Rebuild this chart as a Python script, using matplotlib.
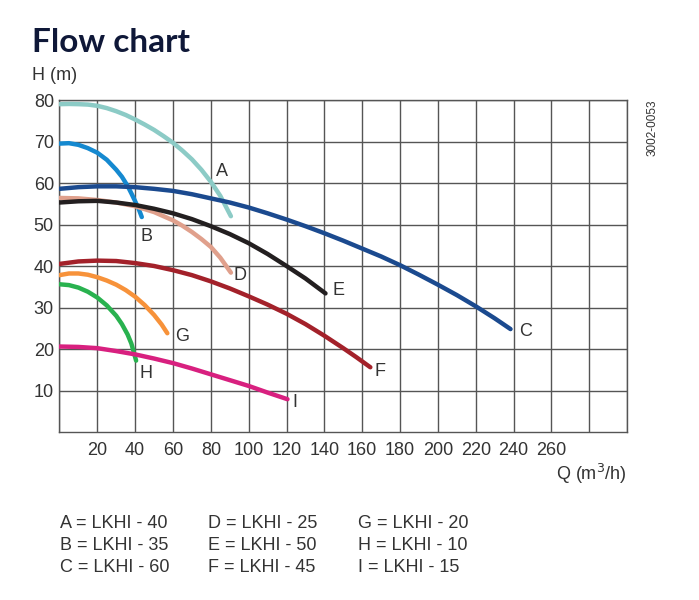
import matplotlib
matplotlib.use("Agg")
import matplotlib.pyplot as plt

plt.rcParams['font.family'] = ['Liberation Sans', 'DejaVu Sans']

# pump curves: Q (m3/h) and H (m)
q_a = [0, 5, 10, 15, 20, 25, 30, 35, 40, 45, 50, 55, 60, 65, 70, 75, 80, 85, 90.6]
h_a = [79, 79.05, 79, 78.9, 78.6, 78.05, 77.3, 76.4, 75.3, 74.1, 72.8, 71.3, 69.7,
       67.8, 65.7, 63.2, 60.3, 56.9, 52]
q_b = [0, 5, 10, 15, 20, 25, 30, 33, 36, 38, 40, 42, 43.5]
h_b = [69.5, 69.6, 69.2, 68.4, 67.3, 65.6, 63.2, 61.5, 59.3, 57.5, 55.6, 53.6, 51.8]
q_c = [0, 10, 20, 30, 40, 50, 60, 70, 80, 90, 100, 110, 120, 130, 140, 150, 160,
       170, 180, 190, 200, 210, 220, 230, 238.4]
h_c = [58.6, 59.0, 59.2, 59.2, 59.0, 58.6, 58.1, 57.3, 56.3, 55.3, 54.1, 52.7, 51.2,
       49.6, 47.9, 46.1, 44.2, 42.3, 40.2, 37.9, 35.5, 33.0, 30.3, 27.4, 24.8]
q_d = [0, 10, 20, 30, 40, 50, 60, 65, 70, 75, 80, 85, 90.6]
h_d = [56.4, 56.3, 55.9, 55.3, 54.4, 53, 51, 49.7, 48.2, 46.5, 44.6, 42.0, 38.4]
q_e = [0, 10, 20, 30, 40, 50, 60, 70, 80, 90, 100, 110, 120, 130, 140.6]
h_e = [55.3, 55.6, 55.7, 55.3, 54.7, 53.8, 52.7, 51.3, 49.6, 47.7, 45.5, 42.9, 40, 37, 33.4]
q_f = [0, 10, 20, 30, 40, 50, 60, 70, 80, 90, 100, 110, 120, 130, 140, 150, 157, 164.3]
h_f = [40.5, 41.1, 41.3, 41.2, 40.7, 40.0, 39.0, 37.8, 36.3, 34.6, 32.7, 30.7, 28.5,
       26.0, 23.2, 20.2, 18.0, 15.6]
q_g = [0, 5, 10, 15, 20, 25, 30, 35, 40, 45, 50, 54, 57]
h_g = [37.8, 38.2, 38.2, 37.9, 37.3, 36.5, 35.5, 34.2, 32.6, 30.6, 28.2, 25.9, 23.8]
q_h = [0, 5, 10, 15, 20, 25, 30, 33, 36, 38, 40.5]
h_h = [35.6, 35.4, 34.8, 33.8, 32.4, 30.5, 28, 26, 23.5, 21.3, 17.2]
q_i = [0, 10, 20, 30, 40, 50, 60, 70, 80, 90, 100, 110, 120.5]
h_i = [20.6, 20.5, 20.2, 19.5, 18.7, 17.7, 16.6, 15.3, 13.9, 12.5, 11.1, 9.5, 7.9]

curve_names = ['A', 'B', 'C', 'D', 'E', 'F', 'G', 'H', 'I']
models = ['LKHI - 40', 'LKHI - 35', 'LKHI - 60', 'LKHI - 25', 'LKHI - 50',
          'LKHI - 45', 'LKHI - 20', 'LKHI - 10', 'LKHI - 15']
x_ticks = [20, 40, 60, 80, 100, 120, 140, 160, 180, 200, 220, 240, 260]
y_ticks = [10, 20, 30, 40, 50, 60, 70, 80]

curves = {
    'A': (q_a, h_a, '#8ccbc6'),
    'B': (q_b, h_b, '#1589d0'),
    'C': (q_c, h_c, '#1b4a8f'),
    'D': (q_d, h_d, '#e0a08c'),
    'E': (q_e, h_e, '#231f20'),
    'F': (q_f, h_f, '#a3212a'),
    'G': (q_g, h_g, '#f7923a'),
    'H': (q_h, h_h, '#29b24f'),
    'I': (q_i, h_i, '#d8207f'),
}
# where the letter sits, in data coords
label_pos = {'A': (86, 62.7), 'B': (45.8, 47.2), 'C': (246.3, 24.3),
             'D': (95.5, 37.6), 'E': (147.4, 34), 'F': (169.6, 14.5),
             'G': (64.8, 23.1), 'H': (45.8, 14), 'I': (124.6, 7.2)}

fig = plt.figure(figsize=(6.99, 6.0), dpi=100)
ax = fig.add_axes([0.0851, 0.28, 0.812, 0.5533])

for name in curve_names:
    q, h, col = curves[name]
    ax.plot(q, h, color=col, lw=3.2, solid_capstyle='round',
            solid_joinstyle='round', zorder=3)
    lx, ly = label_pos[name]
    ax.text(lx, ly, name, fontsize=13, color='#333333', ha='center', va='center')

ax.set_xlim(0, 300)
ax.set_ylim(0, 80)
ax.set_xticks(range(0, 301, 20), minor=True)
ax.set_xticks(x_ticks)
ax.set_yticks(y_ticks)
ax.grid(True, which='both', color='#555555', lw=1.0)
ax.tick_params(which='both', length=0, labelsize=13, colors='#333333')
ax.tick_params(axis='x', pad=7)
ax.tick_params(axis='y', pad=4)
for s in ax.spines.values():
    s.set_color('#555555')
    s.set_linewidth(1.0)

fig.text(32 / 699, 1 - 43 / 600, 'Flow chart', fontsize=24, fontweight='bold',
         color='#0f1838', family=['Lato', 'DejaVu Sans'], va='center', ha='left')
fig.text(32 / 699, 1 - 75 / 600, 'H (m)', fontsize=13, color='#333333',
         va='center', ha='left')
fig.text(627 / 699, 1 - 474 / 600, 'Q (m$^3$/h)', fontsize=13, color='#333333',
         va='center', ha='right')
fig.text(653 / 699, 1 - 128 / 600, '3002-0053', fontsize=8.5, color='#333333',
         rotation=90, va='center', ha='center')

col_x = [60, 208, 358]
row_y = [523, 546, 568]
for k, (name, model) in enumerate(zip(curve_names, models)):
    fig.text(col_x[k // 3] / 699, 1 - row_y[k % 3] / 600, f'{name} = {model}',
             fontsize=13, color='#333333', va='center', ha='left')

fig.savefig('out.png', dpi=100)
